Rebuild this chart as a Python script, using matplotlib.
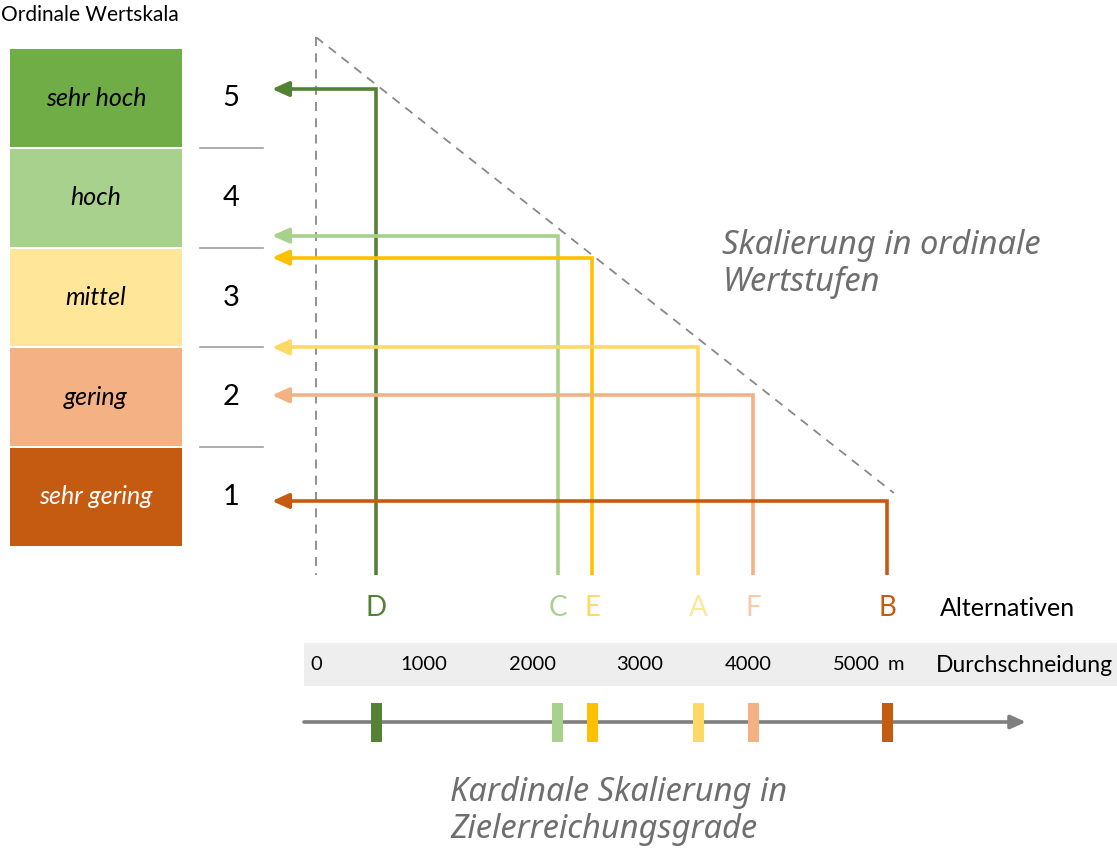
import matplotlib
matplotlib.use("Agg")
import matplotlib.pyplot as plt
from matplotlib.patches import Rectangle

# ordinal value scale (top = 5)
levels = [5, 4, 3, 2, 1]
level_names = ["sehr hoch", "hoch", "mittel", "gering", "sehr gering"]
level_colors = ["#70AD47", "#A9D18E", "#FFE699", "#F4B183", "#C55A11"]
level_text_colors = ["black", "black", "black", "black", "white"]

# alternatives: distance of "Durchschneidung" in m and the resulting value
alternatives = ["D", "C", "E", "A", "F", "B"]
distances = [560, 2240, 2560, 3540, 4050, 5290]
values = [5.09, 3.62, 3.40, 2.50, 2.02, 0.96]
alt_colors = ["#548235", "#A9D18E", "#FFC000", "#FFD966", "#F4B183", "#C55A11"]
alt_label_colors = ["#548235", "#A9D18E", "#FFD966", "#FFE699", "#F8CBAD", "#C55A11"]

tick_values = [0, 1000, 2000, 3000, 4000, 5000]
tick_labels = ["0", "1000", "2000", "3000", "4000", "5000"]

# diagonal of the scaling (distance, value)
diag_dist = [0, 5350]
diag_vals = [5.61, 1.04]

W, H = 1117, 849
X0, SX = 316, 0.108        # pixel of 0 m, pixels per m
Y5, SY = 98, 99.75         # pixel of level 5, pixels per level


def px_x(p):
    return (p - X0) / SX


def px_y(p):
    return 5 - (p - Y5) / SY


fig = plt.figure(figsize=(W / 100, H / 100), dpi=100)
ax = fig.add_axes([0, 0, 1, 1])
ax.set_xlim(px_x(0), px_x(W))
ax.set_ylim(px_y(H), px_y(0))
ax.axis("off")

main_font = "Lato"
grey_font = "Noto Sans"

ax.text(px_x(1), px_y(15), "Ordinale Wertskala", fontsize=15,
        family=main_font, ha="left", va="center")

# coloured boxes with level names and numbers
for lv, name, col, tcol in zip(levels, level_names, level_colors, level_text_colors):
    ax.add_patch(Rectangle((px_x(10), lv - 0.49), px_x(182) - px_x(10), 0.98,
                           facecolor=col, edgecolor="none"))
    ax.text((px_x(10) + px_x(182)) / 2, lv, name, fontsize=18, style="italic",
            family=main_font, color=tcol, ha="center", va="center")
    ax.text(px_x(231), lv, str(lv), fontsize=21, family=main_font,
            ha="center", va="center")
for lv in levels[:-1]:
    ax.plot([px_x(200), px_x(263)], [lv - 0.5, lv - 0.5], color="#A0A0A0", lw=1.2)

# dashed axes of the transformation
ax.plot([0, 0], [diag_vals[0], px_y(575)], color="#888888", lw=1.3,
        dashes=(5, 4))
ax.plot(diag_dist, diag_vals, color="#888888", lw=1.3, dashes=(5, 4))

# value lines: up from the distance, then left to the ordinal scale
bottom = px_y(575)
x_end = px_x(272)
for d, v, col in zip(distances, values, alt_colors):
    ax.plot([d, d, px_x(287)], [bottom, v, v], color=col, lw=2.6,
            solid_joinstyle="miter", solid_capstyle="butt")
    ax.annotate("", xy=(x_end, v), xytext=(px_x(290), v),
                arrowprops=dict(arrowstyle="-|>,head_length=1.0,head_width=0.45",
                                color=col, lw=2.6, shrinkA=0, shrinkB=0))

# alternative labels
for d, name, col in zip(distances, alternatives, alt_label_colors):
    ax.text(d, px_y(608), name, fontsize=20, family=main_font, color=col,
            ha="center", va="center")
ax.text(px_x(940), px_y(609), "Alternativen", fontsize=18, family=main_font,
        ha="left", va="center")

# grey band with the metric scale
ax.add_patch(Rectangle((px_x(304), px_y(686)), px_x(W) - px_x(304),
                       px_y(643) - px_y(686), facecolor="#EEEEEE", edgecolor="none"))
for t, lab in zip(tick_values, tick_labels):
    ax.text(t, px_y(665), lab, fontsize=14.5, family=main_font,
            ha="center", va="center")
ax.text(px_x(896), px_y(665), "m", fontsize=14.5, family=main_font,
        ha="center", va="center")
ax.text(px_x(936), px_y(665), "Durchschneidung", fontsize=16.5, family=main_font,
        ha="left", va="center", clip_on=True)

# cardinal axis with markers
ax.annotate("", xy=(px_x(1026), px_y(722)), xytext=(px_x(304), px_y(722)),
            arrowprops=dict(arrowstyle="-|>,head_length=0.9,head_width=0.4",
                            color="#7F7F7F", lw=2.6, shrinkA=0, shrinkB=0))
for d, col in zip(distances, alt_colors):
    ax.add_patch(Rectangle((d - 5.5 / SX, px_y(742)), 11 / SX, px_y(703) - px_y(742),
                           facecolor=col, edgecolor="none", zorder=3))

# grey explanatory texts
ax.text(px_x(722), px_y(264), "Skalierung in ordinale\nWertstufen", fontsize=23.5,
        style="italic", family=grey_font, color="#6E6E6E", ha="left", va="center",
        linespacing=1.15)
ax.text(px_x(450), px_y(811), "Kardinale Skalierung in\nZielerreichungsgrade",
        fontsize=23.5, style="italic", family=grey_font, color="#6E6E6E",
        ha="left", va="center", linespacing=1.15)

fig.savefig("out.png", dpi=100)
